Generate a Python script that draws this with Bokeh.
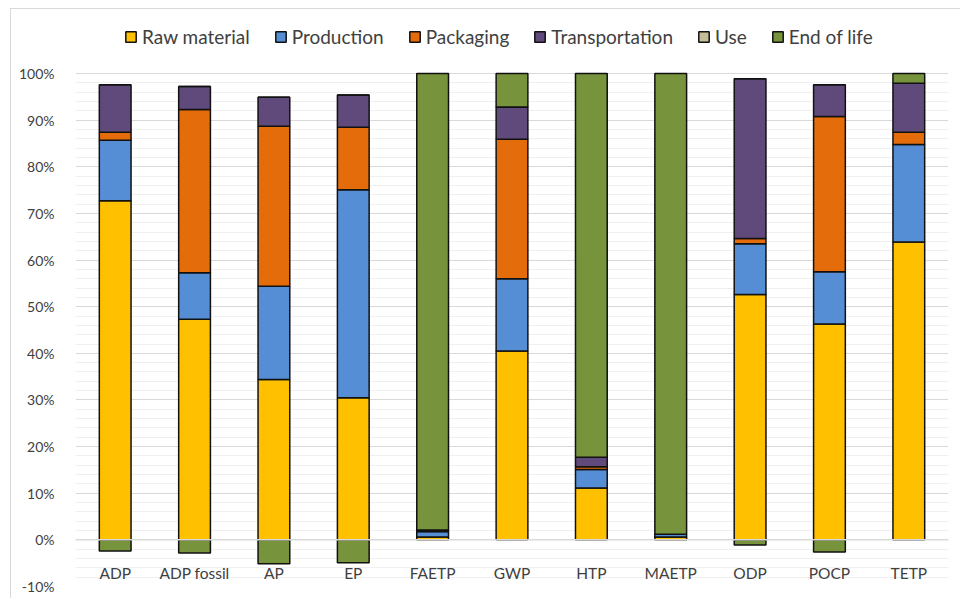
import numpy as np
from bokeh.plotting import figure
from bokeh.models import (ColumnDataSource, Legend, LegendItem, FactorRange, Range1d,
                          FixedTicker, PrintfTickFormatter, Span)
from bokeh.core.properties import value
from bokeh.embed import file_html
from bokeh.resources import INLINE

categories = ["ADP", "ADP fossil", "AP", "EP", "FAETP", "GWP", "HTP", "MAETP", "ODP", "POCP", "TETP"]
series_names = ["Raw material", "Production", "Packaging", "Transportation", "Use", "End of life"]
raw_material = [72.7, 47.3, 34.4, 30.5, 0.6, 40.5, 11.1, 0.6, 52.6, 46.3, 63.9]
production = [13.0, 10.0, 20.0, 44.6, 1.2, 15.5, 4.0, 0.6, 10.9, 11.2, 20.9]
packaging = [1.7, 35.0, 34.3, 13.4, 0.0, 29.9, 0.6, 0.0, 1.1, 33.3, 2.6]
transportation = [10.2, 4.9, 6.2, 6.9, 0.3, 6.9, 2.0, 0.0, 34.3, 6.8, 10.5]
use = [0.0, 0.0, 0.0, 0.0, 0.0, 0.0, 0.0, 0.0, 0.0, 0.0, 0.0]
end_of_life = [-2.4, -2.8, -5.1, -4.9, 97.9, 7.2, 82.3, 98.8, -1.1, -2.6, 2.1]
y_ticks = [-10, 0, 10, 20, 30, 40, 50, 60, 70, 80, 90, 100]

colors = ["#FFC000", "#558ED5", "#E46C0A", "#604A7B", "#C4BD97", "#77933C"]
series = [raw_material, production, packaging, transportation, use, end_of_life]

FONT = "Lato"

# minor gridlines every 2 %
minor = [m for m in np.arange(y_ticks[0], y_ticks[-1] + 1, 2).tolist() if m not in y_ticks]
ticker = FixedTicker(ticks=y_ticks, minor_ticks=minor)

p = figure(width=950, height=590, x_range=FactorRange(*categories, range_padding=0),
           y_range=Range1d(y_ticks[0], 111.8),
           output_backend="svg", toolbar_location=None,
           min_border_left=64, min_border_right=13, min_border_top=9, min_border_bottom=13)
p.margin = (8, 0, 0, 10)
p.outline_line_color = None
p.styles = {"border-left": "1px solid #D9D9D9", "border-top": "1px solid #D9D9D9"}

pos = np.zeros(len(categories))
neg = np.zeros(len(categories))
items = []
for name, vals, col in zip(series_names, series, colors):
    v = np.array(vals, dtype=float)
    bottom = np.where(v >= 0, pos, neg + v)
    top = np.where(v >= 0, pos + v, neg)
    pos = np.where(v >= 0, pos + v, pos)
    neg = np.where(v < 0, neg + v, neg)
    src = ColumnDataSource(dict(x=categories, bottom=bottom, top=top))
    r = p.vbar(x="x", bottom="bottom", top="top", width=0.4, source=src,
               fill_color=col, line_color="#111111", line_width=1.5)
    items.append(LegendItem(label=name, renderers=[r]))

# zero line drawn over the bars
p.add_layout(Span(location=0, dimension="width", line_color="#D9D9D9", line_width=1.5))

# category labels (inside the plot area, as in the reference)
label_y = [-7.2] * len(categories)
p.text(x=categories, y=label_y, text=categories, text_align="center", text_baseline="middle",
       text_font=value(FONT), text_font_size="15.5px", text_color="#404040")

# axes
p.xaxis.visible = False
p.yaxis.ticker = ticker
p.yaxis.formatter = PrintfTickFormatter(format="%d%%")
p.yaxis.axis_line_color = None
p.yaxis.major_tick_line_color = None
p.yaxis.minor_tick_line_color = None
p.yaxis.major_label_standoff = 15
p.yaxis.major_label_text_font = FONT
p.yaxis.major_label_text_font_size = "14px"
p.yaxis.major_label_text_color = "#404040"

p.xgrid.grid_line_color = None
p.ygrid.ticker = ticker
p.ygrid.grid_line_color = "#D9D9D9"
p.ygrid.grid_line_width = 1.2
p.ygrid.minor_grid_line_color = "#F0F0F0"
p.ygrid.minor_grid_line_width = 1

legend = Legend(items=items, orientation="horizontal", location=(49, 538),
                glyph_width=13, glyph_height=13, label_standoff=5, spacing=24,
                label_text_font=FONT, label_text_font_size="19px",
                label_text_color="#404040", border_line_color=None,
                background_fill_alpha=0, padding=0, margin=0)
p.add_layout(legend, "center")

open("out.html", "w").write(file_html(p, INLINE))
